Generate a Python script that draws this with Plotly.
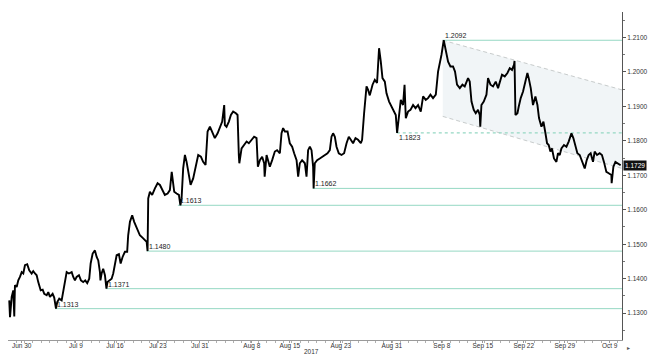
import plotly.graph_objects as go

# time in trading days from Jun 30 2017, close price (EUR/USD)
t_days = [-1.82, -1.73, -1.53, -1.34, -1.22, -1.14, -0.93, -0.74, -0.54, -0.33, -0.14, 0.06, 0.33, 0.57, 0.86, 1.05, 1.26, 1.46, 1.65, 1.94,
          2.18, 2.37, 2.66, 2.85, 3.05, 3.37, 3.56, 3.77, 3.92, 4.16, 4.45, 4.64, 4.84, 5.05, 5.32, 5.65, 5.84, 6.04, 6.24, 6.52,
          6.76, 7.03, 7.27, 7.51, 7.75, 7.92, 8.16, 8.43, 8.64, 8.83, 9.03, 9.09, 9.23, 9.42, 9.63, 9.81, 9.93, 10.14, 10.43, 10.62,
          10.82, 11.03, 11.30, 11.51, 11.74, 12.02, 12.29, 12.41, 12.62, 12.89, 13.13, 13.42, 13.81, 14.21, 14.62, 14.73, 14.81, 15.01, 15.28, 15.61,
          15.93, 16.21, 16.48, 16.80, 17.13, 17.40, 17.62, 17.92, 18.20, 18.48, 18.66, 18.80, 18.99, 19.20, 19.40, 19.59, 19.88, 20.19, 20.48, 20.79,
          21.11, 21.38, 21.67, 21.91, 22.19, 22.46, 22.78, 23.11, 23.38, 23.66, 23.90, 23.98, 24.18, 24.46, 24.70, 24.97, 25.30, 25.50, 25.65, 25.71,
          25.98, 26.29, 26.58, 26.85, 27.17, 27.48, 27.77, 27.89, 27.93, 28.17, 28.44, 28.68, 28.74, 28.97, 29.16, 29.36, 29.64, 29.96, 30.23, 30.56,
          30.76, 30.95, 31.16, 31.48, 31.75, 32.03, 32.27, 32.56, 32.75, 32.95, 33.22, 33.55, 33.75, 33.94, 34.15, 34.35, 34.54, 34.60, 34.74, 35.02,
          35.34, 35.62, 35.94, 36.26, 36.54, 36.74, 36.93, 37.14, 37.34, 37.61, 37.94, 38.25, 38.54, 38.81, 39.05, 39.32, 39.61, 39.92, 40.25, 40.40,
          40.64, 40.93, 41.12, 41.32, 41.65, 41.92, 42.19, 42.43, 42.64, 42.84, 43.12, 43.32, 43.63, 43.92, 44.19, 44.43, 44.59, 44.79, 45.03, 45.30,
          45.48, 45.57, 45.63, 45.90, 46.19, 46.50, 46.79, 47.10, 47.42, 47.70, 48.02, 48.29, 48.58, 48.89, 49.22, 49.49, 49.69, 49.90, 50.17, 50.41,
          50.69, 50.97, 51.28, 51.52, 51.76, 52.09, 52.41, 52.68, 53.08, 53.28, 53.49, 53.76, 54.00, 54.27, 54.48, 54.54, 54.68, 54.96, 55.28, 55.47,
          55.76, 56.07, 56.39, 56.67, 56.87, 57.14, 57.47, 57.79, 58.07, 58.34, 58.58, 58.64, 58.75, 58.99, 59.14, 59.38, 59.66, 59.94, 60.18, 60.34,
          60.58, 60.85, 61.14, 61.38, 61.57, 61.86, 62.10, 62.34, 62.53, 62.73, 62.93, 63.12, 63.36, 63.65, 63.84, 64.05, 64.25, 64.56, 64.85, 65.12,
          65.45, 65.68, 65.92, 66.16, 66.44, 66.71, 67.04, 67.28, 67.51, 67.75, 68.03, 68.23, 68.51, 68.83, 69.10, 69.34, 69.63, 69.91, 70.23, 70.26,
          70.47, 70.71, 71.02, 71.34]
close = [1.1337, 1.1288, 1.1347, 1.1366, 1.1290, 1.1381, 1.1376, 1.1395, 1.1405, 1.1419, 1.1415, 1.1439, 1.1442, 1.1424, 1.1415, 1.1422, 1.1415, 1.1410, 1.1390, 1.1366,
         1.1368, 1.1356, 1.1352, 1.1361, 1.1347, 1.1356, 1.1345, 1.1313, 1.1332, 1.1342, 1.1337, 1.1366, 1.1395, 1.1419, 1.1415, 1.1419, 1.1405, 1.1395, 1.1405, 1.1410,
         1.1395, 1.1390, 1.1395, 1.1387, 1.1400, 1.1444, 1.1473, 1.1482, 1.1463, 1.1453, 1.1419, 1.1395, 1.1415, 1.1429, 1.1410, 1.1371, 1.1390, 1.1395, 1.1400, 1.1415,
         1.1444, 1.1468, 1.1471, 1.1444, 1.1463, 1.1478, 1.1478, 1.1526, 1.1565, 1.1584, 1.1565, 1.1546, 1.1526, 1.1517, 1.1507, 1.1480, 1.1633, 1.1652, 1.1643, 1.1662,
         1.1677, 1.1672, 1.1657, 1.1643, 1.1647, 1.1657, 1.1710, 1.1652, 1.1647, 1.1643, 1.1613, 1.1633, 1.1720, 1.1759, 1.1739, 1.1710, 1.1672, 1.1691, 1.1720, 1.1759,
         1.1754, 1.1739, 1.1730, 1.1827, 1.1841, 1.1827, 1.1808, 1.1822, 1.1837, 1.1856, 1.1904, 1.1846, 1.1841, 1.1856, 1.1875, 1.1885, 1.1880, 1.1875, 1.1759, 1.1735,
         1.1778, 1.1788, 1.1798, 1.1793, 1.1803, 1.1812, 1.1808, 1.1754, 1.1725, 1.1744, 1.1754, 1.1735, 1.1696, 1.1759, 1.1744, 1.1725, 1.1744, 1.1769, 1.1773, 1.1764,
         1.1822, 1.1837, 1.1827, 1.1827, 1.1793, 1.1783, 1.1764, 1.1744, 1.1696, 1.1735, 1.1744, 1.1735, 1.1696, 1.1773, 1.1783, 1.1773, 1.1725, 1.1662, 1.1735, 1.1744,
         1.1749, 1.1754, 1.1759, 1.1764, 1.1773, 1.1812, 1.1822, 1.1812, 1.1783, 1.1764, 1.1759, 1.1764, 1.1793, 1.1812, 1.1803, 1.1793, 1.1808, 1.1803, 1.1793, 1.1803,
         1.1880, 1.1958, 1.1948, 1.1932, 1.1963, 1.1977, 1.1968, 1.2069, 1.2030, 1.1982, 1.1972, 1.1938, 1.1914, 1.1899, 1.1885, 1.1875, 1.1823, 1.1875, 1.1919, 1.1904,
         1.1963, 1.1904, 1.1866, 1.1885, 1.1890, 1.1904, 1.1895, 1.1904, 1.1885, 1.1929, 1.1919, 1.1924, 1.1934, 1.1924, 1.1934, 1.2001, 1.2021, 1.2050, 1.2092, 1.2060,
         1.2030, 1.2016, 1.2016, 1.2001, 1.1963, 1.1953, 1.1963, 1.1958, 1.1982, 1.1972, 1.1914, 1.1890, 1.1880, 1.1890, 1.1875, 1.1841, 1.1904, 1.1914, 1.1934, 1.1982,
         1.1963, 1.1958, 1.1972, 1.1953, 1.1972, 1.1992, 1.1987, 1.1997, 1.2011, 1.2006, 1.2021, 1.2032, 1.1875, 1.1880, 1.1899, 1.1924, 1.1943, 1.1968, 1.1997, 1.1982,
         1.1953, 1.1904, 1.1929, 1.1904, 1.1866, 1.1841, 1.1856, 1.1822, 1.1793, 1.1788, 1.1769, 1.1778, 1.1749, 1.1739, 1.1764, 1.1759, 1.1778, 1.1788, 1.1783, 1.1798,
         1.1822, 1.1808, 1.1788, 1.1764, 1.1759, 1.1739, 1.1720, 1.1744, 1.1759, 1.1764, 1.1739, 1.1769, 1.1759, 1.1764, 1.1759, 1.1739, 1.1710, 1.1706, 1.1701, 1.1677,
         1.1725, 1.1739, 1.1735, 1.1729]

# support / resistance levels and where they start
level_values = [1.2092, 1.1823, 1.1662, 1.1613, 1.1480, 1.1371, 1.1313]
level_start = [50.05, 44.55, 34.50, 18.36, 14.65, 9.75, 3.65]
level_labels = ["1.2092", "1.1823", "1.1662", "1.1613", "1.1480", "1.1371", "1.1313"]
level_dashed = [False, True, False, False, False, False, False]
level_label_below = [False, True, False, False, False, False, False]

# descending channel
channel_x = [50.05, 71.5]
channel_upper = [1.2092, 1.1948]
channel_lower = [1.1871, 1.1720]

last_price = 1.1729

tick_pos = [-0.33, 6.16, 10.83, 15.97, 21.0, 27.21, 31.76, 37.86, 43.96, 49.94, 54.84, 59.75, 64.65, 70.03]
tick_text = ["Jun 30", "Jul 9", "Jul 16", "Jul 23", "Jul 31", "Aug 8", "Aug 15", "Aug 23", "Aug 31",
             "Sep 8", "Sep 15", "Sep 22", "Sep 29", "Oct 9"]
year_label = "2017"

x_range = [-1.97, 71.5]
y_range = [1.1222, 1.2174]

TEAL = "#95d8c3"
FONT = "Liberation Sans"

fig = go.Figure()

# channel shading
fig.add_trace(go.Scatter(
    x=[channel_x[0], channel_x[1], channel_x[1], channel_x[0]],
    y=[channel_upper[0], channel_upper[1], channel_lower[1], channel_lower[0]],
    fill="toself", fillcolor="#f1f5f7", line=dict(width=0), mode="lines",
    hoverinfo="skip", showlegend=False))
for ys in (channel_upper, channel_lower):
    fig.add_trace(go.Scatter(x=channel_x, y=ys, mode="lines",
                             line=dict(color="#c8cccc", width=1, dash="4px,3px"),
                             hoverinfo="skip", showlegend=False))

# level lines
for v, s, d in zip(level_values, level_start, level_dashed):
    fig.add_trace(go.Scatter(x=[s, x_range[1]], y=[v, v], mode="lines",
                             line=dict(color=TEAL, width=1.2 if d else 1, dash="3px,3px" if d else "solid"),
                             hoverinfo="skip", showlegend=False))

# price
fig.add_trace(go.Scatter(x=t_days, y=close, mode="lines",
                         line=dict(color="#000000", width=1.9),
                         showlegend=False))

annotations = []
for v, s, lab, below in zip(level_values, level_start, level_labels, level_label_below):
    annotations.append(dict(x=s, y=v, xref="x", yref="y", text=lab, showarrow=False,
                            xanchor="left", yanchor="top" if below else "bottom",
                            xshift=1, borderpad=0,
                            font=dict(family=FONT, size=7, color="#222222")))
annotations.append(dict(x=1, y=last_price, xref="paper", yref="y", text=f"{last_price:.4f}",
                        showarrow=False, xanchor="left", yanchor="middle", bgcolor="#111111",
                        borderpad=1, xshift=1,
                        font=dict(family=FONT, size=6.5, color="#ffffff")))
annotations.append(dict(x=34.39, y=-0.034, xref="x", yref="paper", text=year_label, showarrow=False,
                        xanchor="center", yanchor="middle",
                        font=dict(family=FONT, size=6.5, color="#333333")))
annotations.append(dict(x=1.005, y=-0.025, xref="paper", yref="paper", text="▸", showarrow=False,
                        xanchor="left", yanchor="middle",
                        font=dict(family=FONT, size=6, color="#555555")))

fig.update_layout(
    width=657, height=362,
    margin=dict(l=8, r=35, t=12, b=22, autoexpand=False),
    paper_bgcolor="white", plot_bgcolor="white",
    annotations=annotations,
    xaxis=dict(range=x_range, showgrid=False, zeroline=False, showline=True,
               linecolor="#9a9a9a", linewidth=1, ticks="outside", ticklen=2, tickcolor="#9a9a9a",
               tickmode="array", tickvals=tick_pos, ticktext=tick_text, ticklabelstandoff=-3,
               tickfont=dict(family=FONT, size=6.5, color="#333333"),
               minor=dict(ticks="outside", ticklen=2, dtick=1, tick0=0, tickcolor="#b0b0b0")),
    yaxis=dict(range=y_range, side="right", showgrid=False, zeroline=False, showline=True,
               linecolor="#555555", linewidth=1, ticks="outside", ticklen=3, tickcolor="#555555",
               tick0=1.13, dtick=0.01, tickformat=".4f",
               tickfont=dict(family=FONT, size=6.5, color="#333333"),
               minor=dict(ticks="outside", ticklen=2, dtick=0.005, tick0=1.13, tickcolor="#777777")),
)

fig.write_html("out.html", config={"displayModeBar": False},
               post_script="document.body.style.margin='0';")
